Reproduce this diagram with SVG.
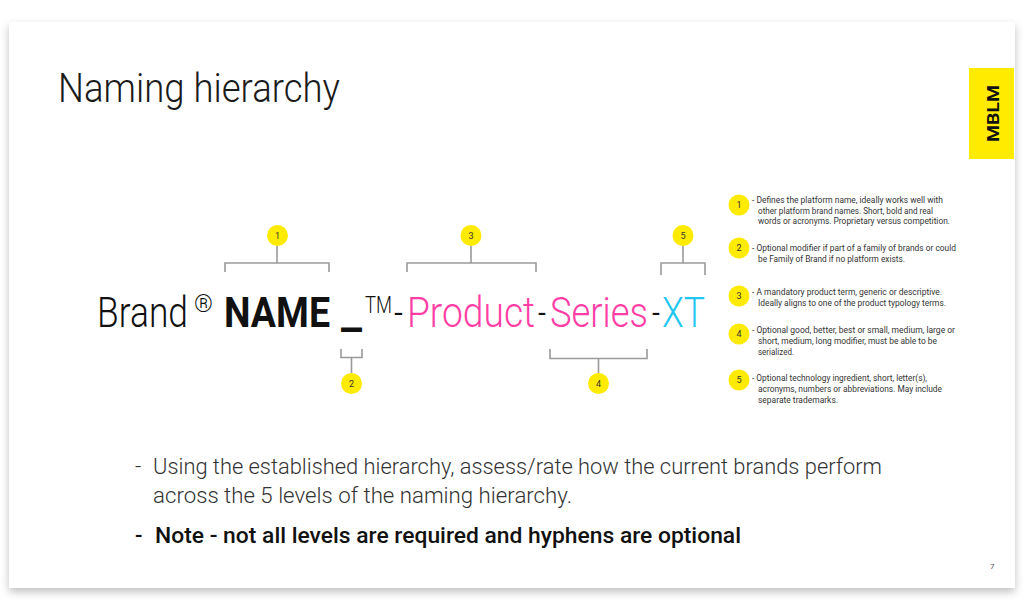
<svg xmlns="http://www.w3.org/2000/svg" width="1024" height="611" viewBox="0 0 1024 611">
<defs>
<filter id="sh" x="-5%" y="-5%" width="110%" height="115%">
<feGaussianBlur in="SourceAlpha" stdDeviation="4"/>
<feOffset dx="0" dy="4" result="b"/>
<feComponentTransfer><feFuncA type="linear" slope="0.25"/></feComponentTransfer>
<feMerge><feMergeNode/><feMergeNode in="SourceGraphic"/></feMerge>
</filter>
<style>
.t{font-family:Roboto,"Liberation Sans",sans-serif}
.lt{font-weight:300}
.bd{font-weight:700}
.br{fill:none;stroke:#9a9a9a;stroke-width:1.6}
.dot{fill:#ffeb00}
.num{font-family:Roboto,"Liberation Sans",sans-serif;font-size:9px;fill:#333;text-anchor:middle}
.lg{font-family:Roboto,"Liberation Sans",sans-serif;font-size:9px;fill:#333}
.pk{fill:#ff3ea5}
.cy{fill:#1fc6f2}
</style>
</defs>
<rect x="0" y="0" width="1024" height="611" fill="#ffffff"/>
<rect x="9" y="22" width="1006" height="566" fill="#ffffff" filter="url(#sh)"/>

<text class="t lt" x="58" y="102" font-size="40" fill="#1a1a1a" textLength="282" lengthAdjust="spacingAndGlyphs">Naming hierarchy</text>

<g id="logo">
<rect x="969" y="68" width="45" height="91" fill="#ffeb00"/>
<text class="t bd" transform="translate(999,113.5) rotate(-90)" font-size="17" text-anchor="middle" fill="#111" textLength="57" lengthAdjust="spacingAndGlyphs">MBLM</text>
</g>

<g id="name-line">
<text class="t lt" x="97" y="327" font-size="42" fill="#111" textLength="91" lengthAdjust="spacingAndGlyphs">Brand</text>
<text class="t lt" x="194" y="312" font-size="23" fill="#111" textLength="19" lengthAdjust="spacingAndGlyphs">®</text>
<text class="t bd" x="224" y="327" font-size="42" fill="#111" textLength="106" lengthAdjust="spacingAndGlyphs">NAME</text>
<text class="t bd" x="341" y="327" font-size="42" fill="#111" textLength="21" lengthAdjust="spacingAndGlyphs">_</text>
<text class="t lt" x="365" y="313" font-size="24" fill="#111" textLength="27" lengthAdjust="spacingAndGlyphs">TM</text>
<text class="t lt" x="394" y="327" font-size="42" fill="#111" textLength="9" lengthAdjust="spacingAndGlyphs">-</text>
<text class="t lt pk" x="407" y="327" font-size="42" textLength="128" lengthAdjust="spacingAndGlyphs">Product</text>
<text class="t lt" x="538" y="327" font-size="42" fill="#111" textLength="8" lengthAdjust="spacingAndGlyphs">-</text>
<text class="t lt pk" x="550" y="327" font-size="42" textLength="98" lengthAdjust="spacingAndGlyphs">Series</text>
<text class="t lt" x="652" y="327" font-size="42" fill="#111" textLength="8" lengthAdjust="spacingAndGlyphs">-</text>
<text class="t lt cy" x="662" y="327" font-size="42" textLength="43" lengthAdjust="spacingAndGlyphs">XT</text>
</g>

<g id="connectors">
<path class="br" d="M225,272 V263 H329 V272 M277,263 V246"/>
<path class="br" d="M341,349 V357.5 H362 V349 M351.5,357.5 V373"/>
<path class="br" d="M407,272 V263 H536 V272 M471,263 V246"/>
<path class="br" d="M550,349 V358.5 H647 V349 M598.5,358.5 V373"/>
<path class="br" d="M661,275 V263 H705 V275 M683,263 V246"/>
</g>

<g id="marker-1"><circle class="dot" cx="277.5" cy="235.5" r="10.5"/><text class="num" x="277.5" y="238.8">1</text></g>
<g id="marker-2"><circle class="dot" cx="351.5" cy="383.5" r="10.5"/><text class="num" x="351.5" y="386.8">2</text></g>
<g id="marker-3"><circle class="dot" cx="471" cy="235.5" r="10.5"/><text class="num" x="471" y="238.8">3</text></g>
<g id="marker-4"><circle class="dot" cx="598.5" cy="383.5" r="10.5"/><text class="num" x="598.5" y="386.8">4</text></g>
<g id="marker-5"><circle class="dot" cx="683" cy="235.5" r="10.5"/><text class="num" x="683" y="238.8">5</text></g>

<g id="legend-1">
<circle class="dot" cx="739" cy="205" r="10.5"/><text class="num" x="739" y="208.3">1</text>
<text class="lg" x="752" y="203" textLength="191" lengthAdjust="spacingAndGlyphs">- Defines the platform name, ideally works well with</text>
<text class="lg" x="758" y="213.5" textLength="175" lengthAdjust="spacingAndGlyphs">other platform brand names. Short, bold and real</text>
<text class="lg" x="758" y="224" textLength="192" lengthAdjust="spacingAndGlyphs">words or acronyms. Proprietary versus competition.</text>
</g>
<g id="legend-2">
<circle class="dot" cx="739" cy="248" r="10.5"/><text class="num" x="739" y="251.3">2</text>
<text class="lg" x="752" y="251" textLength="204" lengthAdjust="spacingAndGlyphs">- Optional modifier if part of a family of brands or could</text>
<text class="lg" x="758" y="261.5" textLength="147" lengthAdjust="spacingAndGlyphs">be Family of Brand if no platform exists.</text>
</g>
<g id="legend-3">
<circle class="dot" cx="739" cy="296" r="10.5"/><text class="num" x="739" y="299.3">3</text>
<text class="lg" x="752" y="295" textLength="190" lengthAdjust="spacingAndGlyphs">- A mandatory product term, generic or descriptive.</text>
<text class="lg" x="758" y="305.5" textLength="188" lengthAdjust="spacingAndGlyphs">Ideally aligns to one of the product typology terms.</text>
</g>
<g id="legend-4">
<circle class="dot" cx="739" cy="334" r="10.5"/><text class="num" x="739" y="337.3">4</text>
<text class="lg" x="752" y="333" textLength="203" lengthAdjust="spacingAndGlyphs">- Optional good, better, best or small, medium, large or</text>
<text class="lg" x="758" y="344" textLength="179" lengthAdjust="spacingAndGlyphs">short, medium, long modifier, must be able to be</text>
<text class="lg" x="758" y="355" textLength="36" lengthAdjust="spacingAndGlyphs">serialized.</text>
</g>
<g id="legend-5">
<circle class="dot" cx="739" cy="380" r="10.5"/><text class="num" x="739" y="383.3">5</text>
<text class="lg" x="752" y="381" textLength="175" lengthAdjust="spacingAndGlyphs">- Optional technology ingredient, short, letter(s),</text>
<text class="lg" x="758" y="392" textLength="184" lengthAdjust="spacingAndGlyphs">acronyms, numbers or abbreviations. May include</text>
<text class="lg" x="758" y="403" textLength="80" lengthAdjust="spacingAndGlyphs">separate trademarks.</text>
</g>

<g id="notes">
<text class="t lt" x="135" y="474" font-size="22" fill="#333">-</text>
<text class="t lt" x="153" y="474" font-size="22" fill="#333" textLength="729" lengthAdjust="spacingAndGlyphs">Using the established hierarchy, assess/rate how the current brands perform</text>
<text class="t lt" x="153" y="503" font-size="22" fill="#333" textLength="419" lengthAdjust="spacingAndGlyphs">across the 5 levels of the naming hierarchy.</text>
<text class="t" x="135" y="543" font-size="22" font-weight="500" fill="#111">-</text>
<text class="t" x="155" y="543" font-size="22" font-weight="500" fill="#111" textLength="586" lengthAdjust="spacingAndGlyphs">Note - not all levels are required and hyphens are optional</text>
</g>

<text class="t" x="990" y="569" font-size="8" fill="#555">7</text>
</svg>
